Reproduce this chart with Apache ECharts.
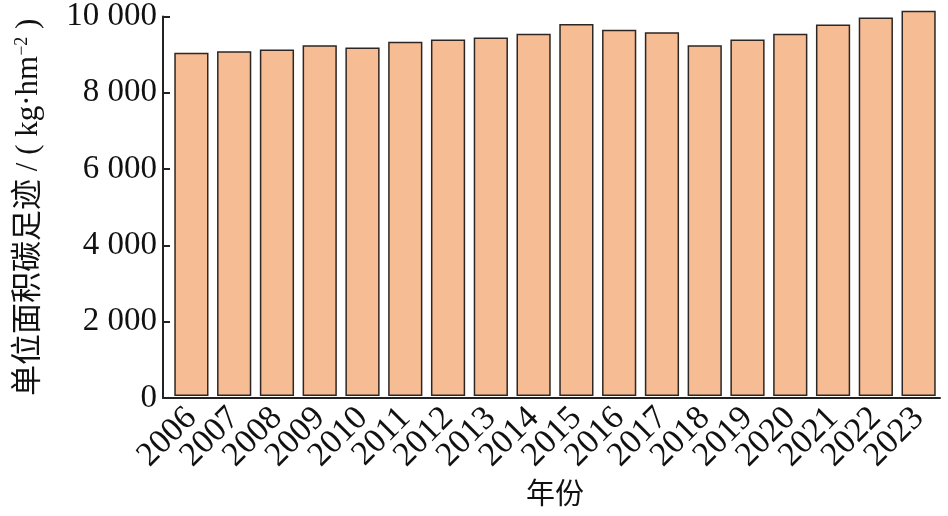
<!DOCTYPE html>
<html>
<head>
<meta charset="utf-8">
<script src="https://cdn.jsdelivr.net/npm/echarts@6/dist/echarts.min.js"></script>
<style>html,body{margin:0;padding:0;background:#fff}#c{width:948px;height:516px}</style>
</head>
<body>
<div id="c"></div>
<script>
const years = ['2006','2007','2008','2009','2010','2011','2012','2013','2014','2015','2016','2017','2018','2019','2020','2021','2022','2023'];
const carbonFootprint = [8960, 9000, 9050, 9160, 9100, 9250, 9310, 9360, 9460, 9710, 9560, 9500, 9160, 9310, 9460, 9700, 9880, 10060];
const yTicks = [0, 2000, 4000, 6000, 8000, 10000];

const serif = '"Times New Roman", "Liberation Serif", "Noto Sans CJK SC", serif';
const fmt = v => { const s = String(v); return s.length > 3 ? s.slice(0, -3) + ' ' + s.slice(-3) : s; };

const chart = echarts.init(document.getElementById('c'), null, {renderer: 'canvas'});
chart.setOption({
  backgroundColor: '#fff',
  animation: false,
  grid: [
    {left: 170, right: 8, top: 13, bottom: 118},
    {left: 163, right: 8, top: 13, bottom: 118}
  ],
  xAxis: [
    {
      type: 'category', gridIndex: 0, data: years,
      axisLine: {show: false}, axisTick: {show: false},
      axisLabel: {rotate: 45, margin: 17, color: '#111', fontFamily: serif, fontSize: 34, interval: 0},
      name: '年份', nameLocation: 'middle', nameGap: 86,
      nameTextStyle: {color: '#111', fontFamily: serif, fontSize: 29}
    },
    {
      type: 'value', gridIndex: 1, min: 0, max: 1,
      axisLine: {show: true, lineStyle: {color: '#222', width: 2}},
      axisTick: {show: false}, axisLabel: {show: false}, splitLine: {show: false}
    }
  ],
  yAxis: [
    {type: 'value', gridIndex: 0, min: yTicks[0], max: yTicks[yTicks.length - 1], interval: 2000, show: false},
    {
      type: 'value', gridIndex: 1, min: yTicks[0], max: yTicks[yTicks.length - 1], interval: yTicks[1] - yTicks[0],
      axisLine: {show: true, lineStyle: {color: '#222', width: 2}},
      axisTick: {show: true, inside: true, length: 7, lineStyle: {color: '#222', width: 2}},
      splitLine: {show: false},
      axisLabel: {color: '#111', fontFamily: serif, fontSize: 33, margin: 6, formatter: fmt},
      name: '{a|单位面积碳足迹 / ( kg·hm}{s|−2}{a| )}',
      nameLocation: 'middle', nameRotate: 90, nameGap: 118,
      nameTextStyle: {
        rich: {
          a: {color: '#111', fontFamily: serif, fontSize: 31},
          s: {color: '#111', fontFamily: serif, fontSize: 18, padding: [0, 0, 14, 0]}
        }
      }
    }
  ],
  series: [{
    type: 'bar', xAxisIndex: 0, yAxisIndex: 0, data: carbonFootprint,
    barCategoryGap: '20%', clip: false,
    itemStyle: {color: '#f6bc94', borderColor: '#2e2622', borderWidth: 1.5}
  }]
});
</script>
</body>
</html>
